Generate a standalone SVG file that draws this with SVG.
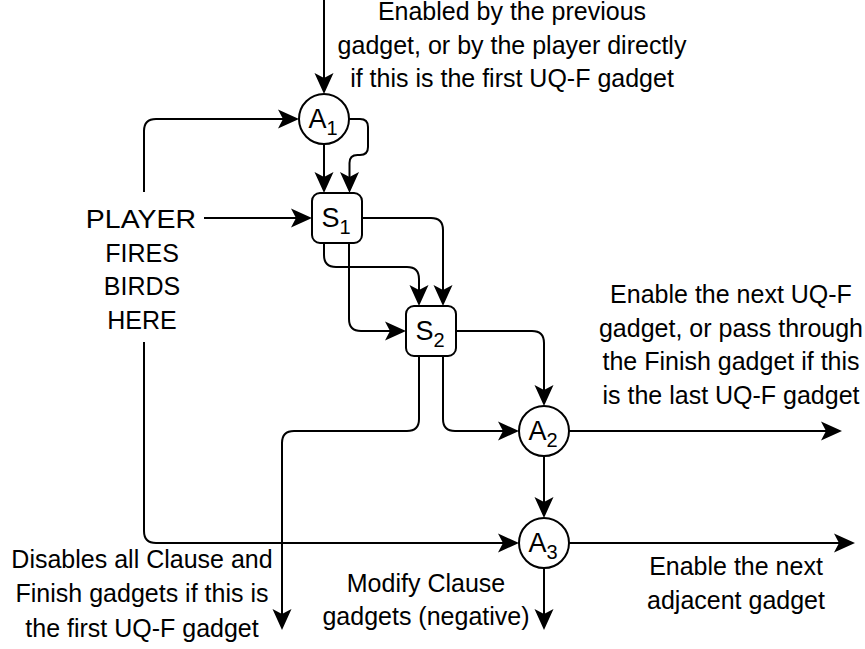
<svg xmlns="http://www.w3.org/2000/svg" width="865" height="649" viewBox="0 0 865 649">
<style>
  text { font-family: "Liberation Sans", Arial, sans-serif; font-size: 25px; fill: #000; }
  .lbl { text-anchor: middle; }
  .nl { font-size: 27px; }
  .sub { font-size: 20px; }
  .node { fill: #fff; stroke: #000; stroke-width: 2; }
  .edge { fill: none; stroke: #000; stroke-width: 2; marker-end: url(#arr); }
</style>
<defs>
  <marker id="arr" markerUnits="userSpaceOnUse" viewBox="-22 -11 24 22" markerWidth="24" markerHeight="22" refX="-16" refY="0" orient="auto">
    <path d="M0,0 L-21,-9.5 L-16,0 L-21,9.5 Z" fill="#000" stroke="none"/>
  </marker>
</defs>
<rect width="865" height="649" fill="#fff"/>

<g id="connectors">
  <path class="edge" d="M324,0 V78"/>
  <path class="edge" d="M144,192 V131 Q144,119 156,119 H283"/>
  <path class="edge" d="M204,218 H296"/>
  <path class="edge" d="M324,144 V177"/>
  <path class="edge" d="M349,119 H360 Q368,119 368,127 V147 Q368,155 360,155 H357.5 Q349.5,155 349.5,163 V177"/>
  <path class="edge" d="M362,218 H431 Q443,218 443,230 V290"/>
  <path class="edge" d="M324,243 V255 Q324,267 336,267 H407 Q419,267 419,279 V290"/>
  <path class="edge" d="M349,243 V319 Q349,331 361,331 H390"/>
  <path class="edge" d="M456,331 H532 Q544,331 544,343 V390"/>
  <path class="edge" d="M419,356 V419 Q419,431 407,431 H294 Q282,431 282,443 V614"/>
  <path class="edge" d="M443,356 V419 Q443,431 455,431 H503"/>
  <path class="edge" d="M569,431 H826"/>
  <path class="edge" d="M544,456 V502"/>
  <path class="edge" d="M144,342 V531 Q144,543 156,543 H503"/>
  <path class="edge" d="M569,543 H839"/>
  <path class="edge" d="M544,568 V614"/>
</g>

<g id="A1">
  <circle class="node" cx="324" cy="119" r="25"/>
  <text class="lbl nl" x="323" y="128">A<tspan class="sub" dy="7">1</tspan></text>
</g>
<g id="S1">
  <rect class="node" x="312" y="193" width="50" height="50" rx="8"/>
  <text class="lbl nl" x="336" y="227">S<tspan class="sub" dy="7">1</tspan></text>
</g>
<g id="S2">
  <rect class="node" x="406" y="306" width="50" height="50" rx="8"/>
  <text class="lbl nl" x="430" y="340">S<tspan class="sub" dy="7">2</tspan></text>
</g>
<g id="A2">
  <circle class="node" cx="544" cy="431" r="25"/>
  <text class="lbl nl" x="543" y="440">A<tspan class="sub" dy="7">2</tspan></text>
</g>
<g id="A3">
  <circle class="node" cx="544" cy="543" r="25"/>
  <text class="lbl nl" x="543" y="552">A<tspan class="sub" dy="7">3</tspan></text>
</g>

<g id="player">
  <text class="lbl" transform="translate(141,228) scale(1.14,1)">PLAYER</text>
  <text class="lbl" x="142" y="262">FIRES</text>
  <text class="lbl" x="142" y="295">BIRDS</text>
  <text class="lbl" x="142" y="329">HERE</text>
</g>
<g id="note-top">
  <text class="lbl" x="512" y="20">Enabled by the previous</text>
  <text class="lbl" x="512" y="54">gadget, or by the player directly</text>
  <text class="lbl" x="512" y="87">if this is the first UQ-F gadget</text>
</g>
<g id="note-right">
  <text class="lbl" x="731" y="303">Enable the next UQ-F</text>
  <text class="lbl" x="731" y="337">gadget, or pass through</text>
  <text class="lbl" x="731" y="370">the Finish gadget if this</text>
  <text class="lbl" x="731" y="404">is the last UQ-F gadget</text>
</g>
<g id="note-disable">
  <text class="lbl" x="142" y="568">Disables all Clause and</text>
  <text class="lbl" x="142" y="602">Finish gadgets if this is</text>
  <text class="lbl" x="142" y="637">the first UQ-F gadget</text>
</g>
<g id="note-modify">
  <text class="lbl" x="426" y="592">Modify Clause</text>
  <text class="lbl" x="426" y="625">gadgets (negative)</text>
</g>
<g id="note-adjacent">
  <text class="lbl" x="736" y="575">Enable the next</text>
  <text class="lbl" x="736" y="609">adjacent gadget</text>
</g>
</svg>
